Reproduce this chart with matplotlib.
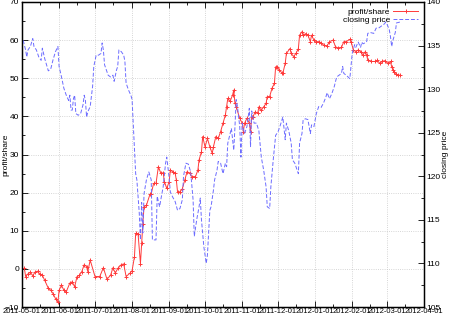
import numpy as np
import pandas as pd
import matplotlib
matplotlib.use('Agg')
import matplotlib.pyplot as plt
import matplotlib.dates as mdates
from matplotlib.ticker import MultipleLocator

plt.rcParams['font.family'] = ['Liberation Sans', 'DejaVu Sans']
plt.rcParams['font.size'] = 6

start = pd.Timestamp('2011-05-01')

# profit/share: day offset from 2011-05-01, value
profit_day = [2, 3, 5, 7, 9, 11, 13, 15, 17, 19, 22, 24, 26, 28, 30, 31, 33, 35, 37, 40,
              42, 44, 46, 48, 50, 52, 54, 55, 57, 61, 65, 68, 71, 74, 76, 78, 80, 83, 85, 87,
              90, 92, 94, 95, 97, 99, 100, 101, 102, 104, 107, 108, 110, 112, 114, 116, 118, 119, 121, 123,
              124, 126, 128, 129, 130, 132, 134, 136, 138, 140, 142, 145, 147, 148, 150, 151, 153, 155, 157, 159,
              160, 162, 164, 166, 168, 170, 171, 172, 174, 176, 177, 178, 179, 182, 184, 185, 186, 188, 190, 191,
              192, 193, 195, 197, 198, 200, 202, 204, 205, 207, 209, 211, 212, 213, 215, 217, 218, 220, 221, 224,
              225, 227, 229, 231, 232, 234, 235, 237, 239, 241, 242, 244, 246, 248, 250, 252, 255, 257, 260, 262,
              264, 267, 269, 271, 274, 275, 277, 279, 281, 283, 285, 287, 288, 289, 292, 295, 297, 299, 301, 303,
              306, 308, 309, 310, 311, 313, 314, 316]
profit = [0.2, -2.0, -1.3, -0.9, -1.8, -0.8, -0.6, -1.4, -1.7, -3.0, -5.1, -5.6, -6.5, -7.8, -8.7, -5.6, -4.3, -5.6, -6.0, -3.7,
          -3.4, -4.7, -2.0, -1.7, -0.7, 1.1, 0.6, -0.7, 2.3, -2.0, -2.0, 0.3, -2.7, -1.7, 0.3, -1.1, 0.1, 1.1, 1.3, -2.0,
          -1.2, -0.5, 3.2, 9.3, 9.2, 1.4, 6.7, 11.9, 16.3, 16.7, 19.6, 19.7, 22.4, 22.4, 26.8, 25.1, 25.2, 22.9, 21.1, 22.9,
          25.9, 25.5, 25.1, 23.3, 20.2, 20.2, 21.0, 23.3, 25.5, 25.1, 24.2, 24.2, 25.9, 28.6, 30.7, 34.7, 32.0, 34.2, 32.0, 30.3,
          32.0, 34.7, 34.2, 36.0, 38.2, 40.4, 42.5, 44.7, 44.0, 45.6, 46.9, 43.4, 42.5, 39.5, 38.2, 36.0, 38.2, 39.5, 38.2, 36.0,
          39.9, 39.9, 41.2, 40.8, 42.5, 41.6, 42.5, 43.4, 45.2, 45.2, 47.4, 48.7, 53.0, 53.0, 52.2, 51.5, 51.3, 53.9, 56.5, 57.8,
          56.5, 55.7, 56.5, 57.8, 61.3, 62.2, 61.3, 61.7, 61.3, 59.6, 61.3, 60.0, 59.6, 59.6, 59.3, 58.7, 58.5, 59.6, 60.0, 58.3,
          57.9, 58.1, 59.6, 59.6, 60.2, 59.6, 57.4, 57.0, 57.4, 57.0, 56.1, 57.0, 56.1, 54.8, 54.4, 54.4, 54.7, 53.9, 54.4, 54.6,
          53.9, 54.4, 53.0, 52.2, 51.7, 51.1, 50.8, 50.8]

# closing price: day offset from 2011-05-01, value
price_day = [1, 3, 4, 5, 7, 9, 10, 12, 14, 16, 17, 19, 22, 24, 26, 28, 30, 31, 33, 35,
             37, 39, 40, 41, 42, 43, 44, 45, 47, 49, 51, 52, 53, 54, 55, 57, 59, 60, 62, 64,
             66, 67, 68, 69, 71, 72, 74, 76, 77, 79, 80, 81, 83, 85, 86, 87, 89, 91, 92, 93,
             94, 95, 96, 98, 99, 100, 101, 102, 104, 106, 108, 109, 112, 113, 115, 116, 118, 120, 121, 123,
             124, 126, 128, 130, 132, 134, 135, 137, 139, 141, 143, 144, 146, 148, 149, 150, 152, 154, 155, 157,
             158, 160, 161, 163, 164, 166, 168, 170, 171, 172, 174, 175, 177, 178, 179, 180, 182, 183, 184, 186,
             188, 190, 191, 192, 194, 196, 198, 200, 202, 204, 205, 207, 208, 210, 212, 214, 216, 218, 220, 221,
             223, 225, 226, 228, 230, 231, 232, 234, 235, 237, 239, 241, 242, 244, 246, 248, 250, 252, 254, 255,
             257, 259, 261, 263, 265, 267, 268, 269, 271, 274, 275, 276, 278, 279, 281, 283, 284, 285, 288, 289,
             291, 294, 296, 298, 300, 303, 304, 305, 307, 308, 309, 310, 312, 313, 316]
price = [135.6, 134.5, 133.7, 134.5, 134.9, 135.8, 134.9, 134.5, 133.7, 133.3, 134.7, 133.5, 132.1, 132.3, 133.4, 134.3, 134.9, 132.6, 131.4, 130.1,
         129.3, 128.7, 129.3, 127.6, 127.6, 128.9, 129.3, 127.2, 127.0, 127.2, 128.2, 129.3, 128.7, 126.8, 127.4, 128.0, 130.3, 132.6, 133.9, 133.9,
         134.1, 135.3, 134.5, 132.8, 132.0, 131.6, 131.4, 131.6, 130.9, 132.2, 132.6, 134.5, 134.3, 133.9, 133.2, 130.7, 129.9, 129.3, 128.8, 126.0,
         123.4, 120.3, 119.6, 115.8, 112.7, 117.0, 113.5, 118.0, 119.6, 120.5, 119.6, 112.7, 112.7, 117.7, 116.5, 117.3, 118.8, 121.5, 122.2, 119.8,
         118.2, 117.6, 117.1, 116.1, 116.3, 117.3, 120.0, 121.5, 121.4, 120.5, 117.3, 113.1, 115.0, 116.5, 117.5, 115.0, 111.9, 110.0, 111.0, 116.1,
         116.5, 118.4, 119.6, 120.7, 121.7, 121.5, 120.3, 121.5, 121.1, 123.8, 124.9, 125.5, 123.0, 125.7, 128.8, 128.1, 125.7, 122.2, 126.1, 124.9,
         125.7, 127.8, 123.4, 127.5, 126.1, 126.1, 125.2, 122.2, 120.7, 118.8, 116.5, 116.3, 118.8, 121.9, 124.7, 125.1, 125.9, 126.8, 124.2, 126.1,
         125.2, 123.8, 121.9, 121.5, 120.7, 120.3, 123.8, 124.9, 126.5, 126.6, 126.5, 124.9, 125.9, 125.7, 127.2, 128.0, 127.9, 128.4, 129.1, 129.6,
         128.9, 129.5, 130.3, 131.4, 131.6, 131.8, 132.6, 131.8, 131.6, 131.2, 132.6, 134.1, 135.1, 134.8, 135.4, 134.8, 135.4, 135.2, 135.4, 136.4,
         136.5, 136.4, 137.0, 137.0, 137.2, 137.5, 137.7, 137.5, 136.8, 136.0, 134.9, 135.6, 136.5, 137.6, 137.7]

profit_dates = start + pd.to_timedelta(profit_day, unit='D')
price_dates = start + pd.to_timedelta(price_day, unit='D')

fig = plt.figure(figsize=(4.5, 3.15), dpi=100)
ax = fig.add_axes([22/450, 8/315, 402/450, 305/315])
ax2 = ax.twinx()

l1, = ax.plot(profit_dates, profit, color='#ff3a3a', lw=0.7, marker='+', ms=3.5, mew=0.7,
              label='profit/share')
l2, = ax2.plot(price_dates, price, color='#6c6cff', lw=0.7, ls=(0, (4, 2)),
               label='closing price')

ax.set_xlim(pd.Timestamp('2011-05-01'), pd.Timestamp('2012-04-01'))
ax.set_ylim(-10, 70)
ax2.set_ylim(105, 140)

ax.xaxis.set_major_locator(mdates.MonthLocator())
ax.xaxis.set_major_formatter(mdates.DateFormatter('%Y-%m-%d'))
ax.xaxis.set_minor_locator(mdates.DayLocator(bymonthday=16))
ax.yaxis.set_major_locator(MultipleLocator(10))
ax.yaxis.set_minor_locator(MultipleLocator(5))
ax2.yaxis.set_major_locator(MultipleLocator(5))
ax2.yaxis.set_minor_locator(MultipleLocator(2.5))

ax.grid(True, which='major', color='#c8c8c8', ls=':', lw=0.6)
ax.tick_params(which='both', direction='in', top=True, right=False, labelsize=6, pad=2)
ax.tick_params(axis='x', labelsize=5.5, pad=0.5)
ax.tick_params(which='major', length=4, width=0.6)
ax.tick_params(which='minor', length=2, width=0.6)
ax2.tick_params(which='both', direction='in', labelsize=6, pad=2)
ax2.tick_params(which='major', length=4, width=0.6)
ax2.tick_params(which='minor', length=2, width=0.6)

for sp in ax.spines.values():
    sp.set_linewidth(1.0)

ax.set_ylabel('profit/share', fontsize=6)
ax.yaxis.set_label_coords(-0.032, 0.5)
ax2.set_ylabel('closing price', fontsize=6, labelpad=1)

ax2.legend(handles=[l1, l2], loc='upper right', frameon=False, markerfirst=False,
           fontsize=6, handlelength=3, borderaxespad=0.3, labelspacing=0.1,
           handletextpad=0.4)

fig.savefig('out.png', dpi=100)
